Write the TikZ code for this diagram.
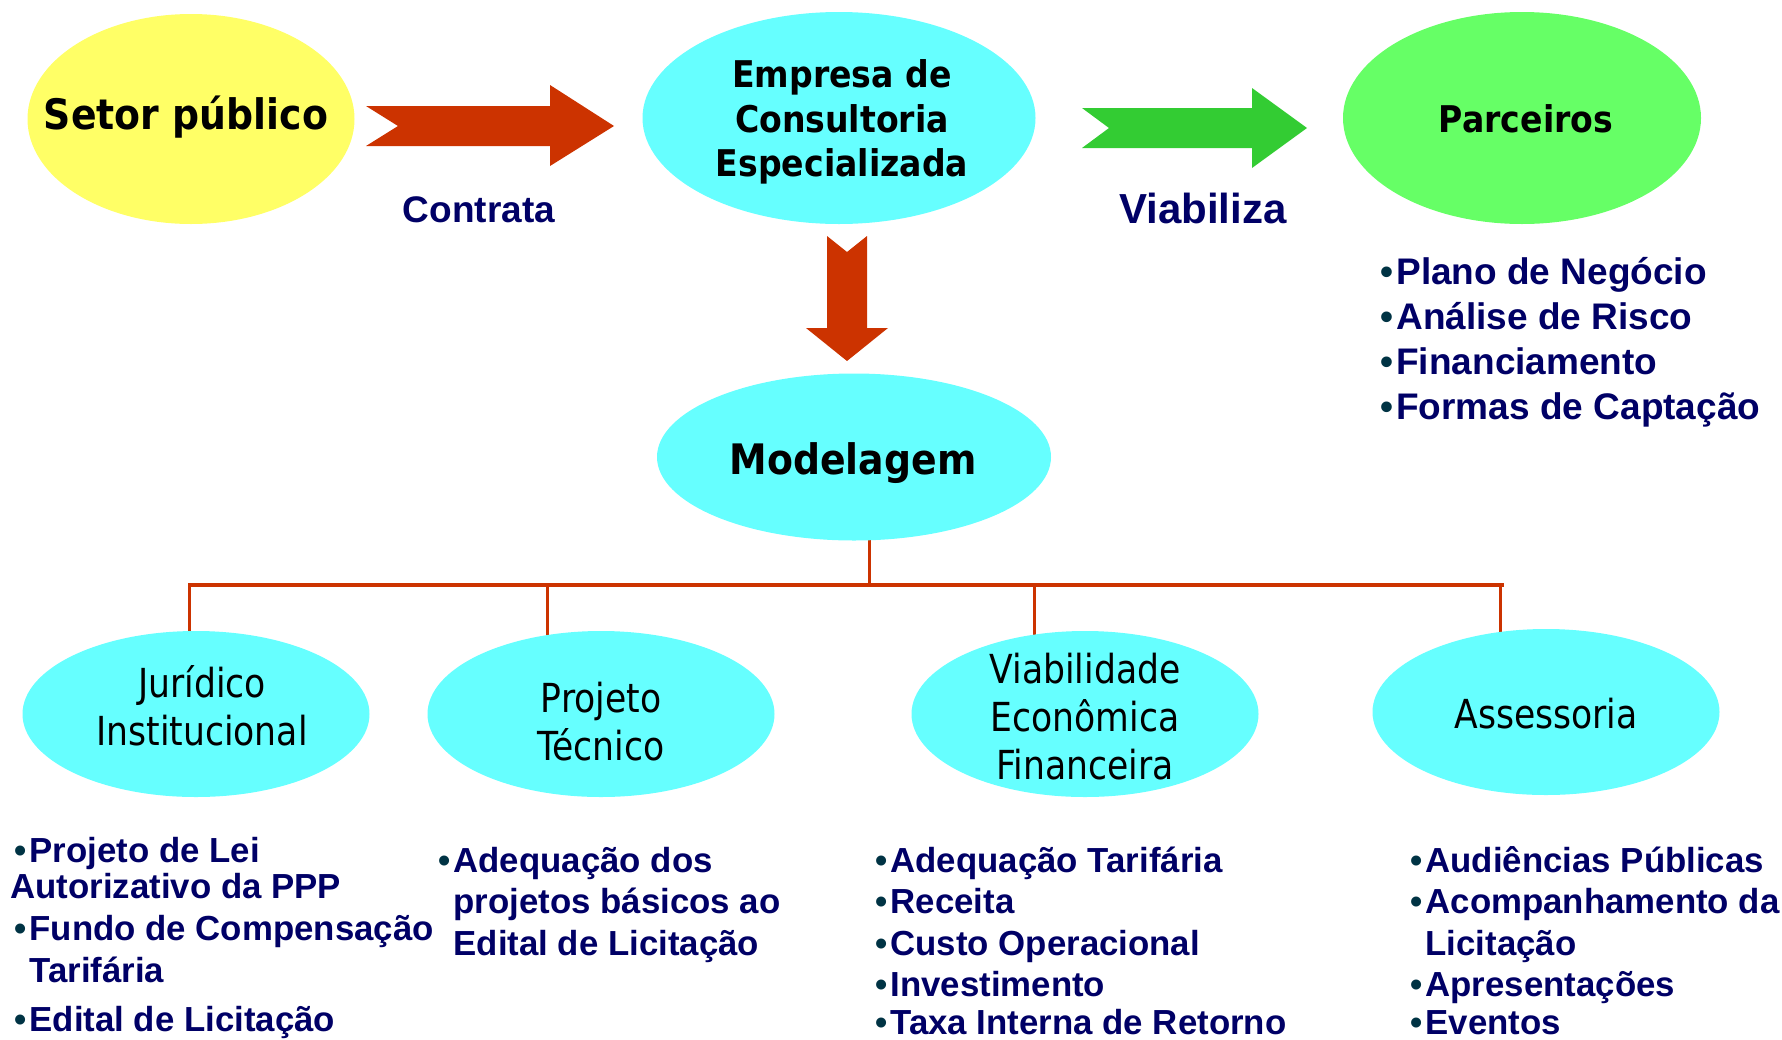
\documentclass[tikz,border=0pt]{standalone}
\usepackage{fontspec}
\usepackage{tikz}
\usetikzlibrary{shapes.geometric,backgrounds}

\newfontfamily\ellfont[FakeStretch=0.9]{DejaVu Sans}
\newfontfamily\lowfont[FakeStretch=0.865]{DejaVu Sans}
\newfontfamily\listfont{Liberation Sans}

\definecolor{setorc}{HTML}{FFFF66}
\definecolor{cyanc}{HTML}{66FFFF}
\definecolor{parcc}{HTML}{66FF66}
\definecolor{redarr}{HTML}{CC3300}
\definecolor{greenarr}{HTML}{33CC33}
\definecolor{navy}{HTML}{000066}
\definecolor{dotc}{HTML}{003344}

% bullet and hanging indent for the lists
\newcommand{\itm}{\textcolor{dotc}{\textbullet}\kern1.5pt}
\newcommand{\ind}{\hphantom{\textbullet}\kern1.5pt}

\begin{document}
\begin{tikzpicture}[x=0.5pt,y=-0.5pt]

        % Styles
        \tikzset{
          blob/.style={ellipse,inner sep=0pt},
          topblob/.style={blob,minimum height=106pt},
          lowblob/.style={blob,fill=cyanc,minimum width=173.5pt,
                          minimum height=83pt},
          toptxt/.style={inner sep=0pt,align=center,
                         font=\ellfont\bfseries\fontsize{21}{22.3}\selectfont},
          smalltxt/.style={toptxt,
                         font=\ellfont\bfseries\fontsize{18.4}{22.2}\selectfont},
          lowtxt/.style={inner sep=0pt,align=center,
                         font=\lowfont\fontsize{20}{24}\selectfont},
          verb/.style={inner sep=0pt,text=navy,
                       font=\listfont\bfseries\fontsize{18.5}{22}\selectfont},
          item/.style={anchor=base west,inner sep=0pt,text=navy,
                       font=\listfont\bfseries\fontsize{17.4}{20}\selectfont},
          bigitem/.style={item,font=\listfont\bfseries\fontsize{18.5}{22}\selectfont},
          tree/.style={redarr,line width=1.5pt}
        }

        \useasboundingbox (0,0) rectangle (1782,1039);

        % y-coordinates for levels
        \def\ytop{118}     % top row of ellipses
        \def\ymod{457}     % Modelagem
        \def\ybar{585}     % horizontal bar
        \def\ylow{714}     % lower row of ellipses

        %-------------------------------
        % Top row
        %-------------------------------
        \node[topblob,fill=setorc,minimum width=163.5pt,minimum height=105pt]
             (setor) at (191,119) {};
        \node[toptxt] (setort) at (186,117) {Setor público};

        \node[topblob,fill=cyanc,minimum width=196.5pt] (empresa) at (839,\ytop) {};
        \node[smalltxt] (empresat) at (842,122) {Empresa de\\Consultoria\\Especializada};

        \node[topblob,fill=parcc,minimum width=179pt] (parc) at (1522,\ytop) {};
        \node[smalltxt] (parct) at (1526,119) {Parceiros};

        % Block arrows
        \fill[redarr] (366,106) -- (398,126) -- (366,146) -- (550,146)
              -- (550,166) -- (614,126) -- (550,85) -- (550,106) -- cycle;
        \fill[greenarr] (1082,108) -- (1109,128) -- (1082,148) -- (1252,148)
              -- (1252,168) -- (1307,128) -- (1252,88) -- (1252,108) -- cycle;
        \fill[redarr] (827,236) -- (847,252) -- (867,236) -- (867,328)
              -- (888,328) -- (847,361) -- (806,328) -- (827,328) -- cycle;

        \node[verb] (contrata) at (479,210) {Contrata};
        \node[verb,font=\listfont\bfseries\fontsize{21}{24}\selectfont]
             (viabiliza) at (1203,208) {Viabiliza};

        % Parceiros list
        \foreach \y/\t [count=\i] in {284/Plano de Negócio,329/Análise de Risco,
                                      374/Financiamento,419/Formas de Captação}
            \node[bigitem] (parc-\i) at (1380,\y) {\itm\t};

        %-------------------------------
        % Modelagem
        %-------------------------------
        \node[blob,fill=cyanc,minimum width=197pt,minimum height=83.5pt]
             (model) at (854,\ymod) {};
        \node[toptxt] (modelt) at (853,463) {Modelagem};

        %-------------------------------
        % Lower row
        %-------------------------------
        \node[lowblob] (jur)  at (196,\ylow) {};
        \node[lowblob] (proj) at (601,\ylow) {};
        \node[lowblob] (viab) at (1085,\ylow) {};
        \node[lowblob] (asse) at (1546,712) {};

        \node[lowtxt] (jurt)  at (202,706)  {Jurídico\\Institucional};
        \node[lowtxt] (projt) at (601,722)  {Projeto\\Técnico};
        \node[lowtxt] (viabt) at (1085,717) {Viabilidade\\Econômica\\Financeira};
        \node[lowtxt] (asset) at (1546,714) {Assessoria};

        % Tree connectors (behind the ellipses)
        \coordinate (stem) at (869,\ybar);
        \coordinate (barL) at (188,\ybar);
        \coordinate (barR) at (1504,\ybar);
        \foreach \n/\x in {jur/189,proj/547,viab/1034,asse/1500}
            \coordinate (d\n) at (\x,\ybar);

        \begin{scope}[on background layer]
            \draw[tree] (stem) -- (stem |- model.center);
            \draw[tree,line width=2pt] (barL) -- (barR);
            \foreach \n in {jur,proj,viab,asse}
                \draw[tree] (d\n) -- (d\n |- \n.center);
        \end{scope}

        %-------------------------------
        % Lists under the lower row
        %-------------------------------
        \foreach \y/\t [count=\i] in {862/\itm Projeto de Lei,
                                      898/\kern-2pt Autorizativo da PPP,
                                      940/\itm Fundo de Compensação,
                                      982/\ind Tarifária,
                                      1031/\itm Edital de Licitação}
            \node[item] (jur-\i) at (14,\y) {\t};

        \foreach \y/\t [count=\i] in {872/\itm Adequação dos,
                                      913/\ind projetos básicos ao,
                                      955/\ind Edital de Licitação}
            \node[item] (proj-\i) at (438,\y) {\t};

        \foreach \y/\t [count=\i] in {872/Adequação Tarifária,913/Receita,
                                      955/Custo Operacional,996/Investimento,
                                      1034/Taxa Interna de Retorno}
            \node[item] (viab-\i) at (875,\y) {\itm\t};

        \foreach \y/\t [count=\i] in {872/\itm Audiências Públicas,
                                      913/\itm Acompanhamento da,
                                      955/\ind Licitação,
                                      996/\itm Apresentações,
                                      1034/\itm Eventos}
            \node[item] (asse-\i) at (1410,\y) {\t};

    \end{tikzpicture}
\end{document}
